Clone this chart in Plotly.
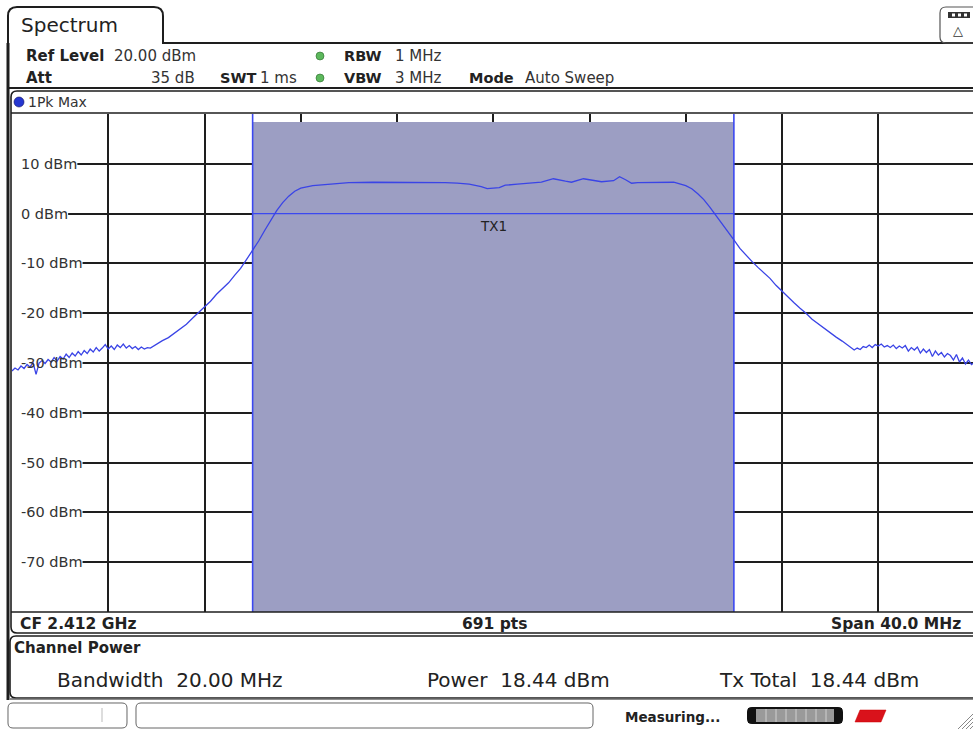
import plotly.graph_objects as go

# ---------------- data ----------------
freq_mhz = [-20.0, -19.875, -19.75, -19.625, -19.5, -19.375, -19.25, -19.125, -19.0, -18.875,
            -18.75, -18.625, -18.5, -18.375, -18.25, -18.125, -18.0, -17.875, -17.75, -17.625,
            -17.5, -17.375, -17.25, -17.125, -17.0, -16.875, -16.75, -16.625, -16.5, -16.375,
            -16.25, -16.125, -16.0, -15.875, -15.75, -15.625, -15.5, -15.375, -15.25, -15.125,
            -15.0, -14.875, -14.75, -14.625, -14.5, -14.375, -14.25, -14.125, -14.0,
            -13.75, -13.5, -13.25, -13.0, -12.75,
            -12.5, -12.25, -12.0, -11.75, -11.5, -11.25, -11.0, -10.75, -10.5, -10.25,
            -10.0, -9.75, -9.5, -9.25, -9.0, -8.75, -8.5, -8.25, -8.0, -7.5,
            -7.0, -6.5, -6.0, -5.0, -4.0, -3.0, -2.0, -1.5, -1.0, -0.5,
            -0.25, 0.25, 0.5, 1.0, 1.5, 2.0, 2.5, 2.75, 3.0, 3.25,
            3.5, 3.75, 4.0, 4.5, 5.0, 5.25, 5.5, 5.75, 6.0, 6.5,
            7.0, 7.5, 8.0, 8.25, 8.5, 8.75, 9.0, 9.25, 9.5, 9.75,
            10.0, 10.25, 10.5, 10.75, 11.0, 11.25, 11.5, 11.75, 12.0, 12.25,
            12.5, 12.75, 13.0, 13.25, 13.5, 13.75, 14.0, 14.25, 14.5, 14.75,
            15.0, 15.125, 15.25, 15.375, 15.5, 15.625, 15.75, 15.875, 16.0, 16.125,
            16.25, 16.375, 16.5, 16.625, 16.75, 16.875, 17.0, 17.125, 17.25, 17.375,
            17.5, 17.625, 17.75, 17.875, 18.0, 18.125, 18.25, 18.375, 18.5, 18.625,
            18.75, 18.875, 19.0, 19.125, 19.25, 19.375, 19.5, 19.625, 19.75, 19.875, 20.0]
level_dbm = [-31.6, -31.0, -31.4, -30.6, -31.1, -30.3, -30.8, -29.9, -32.3, -30.0,
             -29.5, -30.1, -29.3, -29.8, -28.9, -29.6, -28.7, -29.2, -28.2, -28.9,
             -28.0, -28.6, -27.7, -28.4, -27.5, -28.1, -27.2, -27.8, -26.9, -27.6,
             -27.0, -26.3, -27.2, -26.6, -27.3, -26.4, -26.9, -26.2, -27.0, -26.5,
             -27.1, -26.7, -27.3, -26.8, -27.2, -26.9, -27.0, -26.6, -26.3,
             -25.5, -24.9, -24.0, -23.1, -22.2,
             -21.0, -19.9, -18.7, -17.6, -16.2, -15.1, -13.9, -12.4, -11.0, -9.2,
             -7.4, -5.5, -3.4, -1.3, 0.6, 2.2, 3.5, 4.5, 5.1, 5.6,
             5.8, 6.0, 6.2, 6.3, 6.3, 6.2, 6.2, 6.1, 5.9, 5.4,
             5.0, 5.2, 5.7, 5.9, 6.1, 6.3, 7.0, 6.7, 6.5, 6.3,
             6.6, 7.0, 6.8, 6.4, 6.6, 7.4, 6.8, 6.1, 6.2, 6.2,
             6.2, 6.3, 5.6, 5.0, 4.0, 2.8, 1.3, -0.3, -1.9, -3.6,
             -5.3, -7.0, -8.4, -9.6, -10.8, -11.9, -13.0, -14.4, -15.6, -16.9,
             -17.9, -19.0, -20.0, -21.2, -22.1, -23.1, -23.9, -24.8, -25.6, -26.5,
             -27.4, -27.0, -27.3, -26.7, -26.9, -26.4, -26.9, -26.3, -26.6, -26.2,
             -26.8, -26.5, -26.9, -26.4, -27.1, -26.6, -27.0, -26.5, -27.6, -26.9,
             -27.4, -26.8, -28.0, -27.2, -27.9, -27.3, -28.7, -27.6, -28.4, -27.9,
             -28.8, -28.1, -28.5, -29.4, -28.3, -29.8, -29.0, -30.2, -29.4, -30.3, -29.9]

y_tick_vals = [10, 0, -10, -20, -30, -40, -50, -60, -70]
y_tick_text = ["10 dBm", "0 dBm", "-10 dBm", "-20 dBm", "-30 dBm", "-40 dBm", "-50 dBm", "-60 dBm", "-70 dBm"]
channel_lo, channel_hi = -10.0, 10.0
tx_level = 0.0
channel_top = 18.4

# ---------------- helpers ----------------
W, H = 973, 729
X0PX, X1PX = 12, 974.5
Y0PX, Y1PX = 114, 612
def px(x):
    return x / W
def py(y):
    return 1 - y / H
def xdata(p):
    return -20 + (p - X0PX) / (X1PX - X0PX) * 40

DARK = "#1e1e1e"
FONT = "DejaVu Sans"
BLUE = "#3a44e6"

fig = go.Figure()
fig.add_trace(go.Scatter(x=freq_mhz, y=level_dbm, mode="lines",
                         line=dict(color=BLUE, width=1.3), hoverinfo="skip",
                         showlegend=False))

shapes = []
def line(x0, y0, x1, y1, w=2, c=DARK):
    shapes.append(dict(type="line", xref="paper", yref="paper",
                       x0=px(x0), y0=py(y0), x1=px(x1), y1=py(y1),
                       line=dict(color=c, width=w)))

def path(pts_str, w=2, c=DARK, fill=None):
    d = dict(type="path", xref="paper", yref="paper", path=pts_str,
             line=dict(color=c, width=w))
    if fill:
        d["fillcolor"] = fill
    shapes.append(d)

def P(x, y):
    return f"{px(x):.5f},{py(y):.5f}"

def rrect(x0, y0, x1, y1, r=5, w=1.2, c=DARK, fill=None):
    s = (f"M {P(x0+r, y0)} L {P(x1-r, y0)} Q {P(x1, y0)} {P(x1, y0+r)} "
         f"L {P(x1, y1-r)} Q {P(x1, y1)} {P(x1-r, y1)} L {P(x0+r, y1)} "
         f"Q {P(x0, y1)} {P(x0, y1-r)} L {P(x0, y0+r)} Q {P(x0, y0)} {P(x0+r, y0)} Z")
    path(s, w, c, fill)

# channel shading (above grid, below trace)
shapes.append(dict(type="rect", xref="x", yref="y", x0=channel_lo, x1=channel_hi,
                   y0=-80, y1=channel_top, fillcolor="#9c9ec3",
                   line=dict(width=0), layer="between"))
for xv in (channel_lo, channel_hi):
    shapes.append(dict(type="line", xref="x", yref="y", x0=xv, x1=xv, y0=-80, y1=20,
                       line=dict(color="#3b48f0", width=1.6), layer="between"))
shapes.append(dict(type="line", xref="x", yref="y", x0=channel_lo, x1=channel_hi,
                   y0=tx_level, y1=tx_level, line=dict(color="#3b48f0", width=1.3),
                   layer="between"))

# white patches behind y labels (hide gridline under the label text)
cw = {"0": .636, "1": .636, "2": .636, "3": .636, "4": .636, "5": .636, "6": .636,
      "7": .636, " ": .318, "d": .635, "B": .686, "m": .974, "-": .361}
LBL_SIZE = 14.5
LBL_X = 19
for v, t in zip(y_tick_vals, y_tick_text):
    wpx = sum(cw.get(ch, .6) for ch in t) * LBL_SIZE
    shapes.append(dict(type="rect", xref="x", yref="y",
                       x0=xdata(X0PX), x1=xdata(LBL_X + wpx + 2), y0=v - 0.6, y1=v + 0.6,
                       fillcolor="white", line=dict(width=0), layer="between"))

# tab + header frame
path(f"M {P(8, 60)} L {P(8, 16)} Q {P(8, 7)} {P(17, 7)} L {P(154, 7)} Q {P(163, 7)} {P(163, 16)} "
     f"L {P(163, 43)} L {P(973, 43)}", w=2)
line(8, 88, 973, 88, w=2)
line(8, 43, 8, 700, w=3)
# top-right icon
path(f"M {P(980, 7)} L {P(946, 7)} Q {P(940, 7)} {P(940, 13)} L {P(940, 37)} Q {P(940, 43)} {P(946, 43)} L {P(980, 43)}",
     w=1.2, c="#555")
shapes.append(dict(type="rect", xref="paper", yref="paper", x0=px(948), x1=px(970),
                   y0=py(18), y1=py(12), fillcolor="#333", line=dict(width=0)))
for xd in (952, 958, 964):
    shapes.append(dict(type="rect", xref="paper", yref="paper", x0=px(xd), x1=px(xd + 3),
                       y0=py(16.5), y1=py(13.5), fillcolor="white", line=dict(width=0)))

# plot frame
path(f"M {P(973, 91)} L {P(17, 91)} Q {P(11, 91)} {P(11, 97)} L {P(11, 627)} Q {P(11, 633)} {P(17, 633)} L {P(973, 633)}",
     w=1.6)
line(11, 113, 973, 113, w=1.6)
line(11, 612, 973, 612, w=1.6)
# channel power panel
path(f"M {P(973, 636)} L {P(16, 636)} Q {P(10, 636)} {P(10, 642)} L {P(10, 692)} Q {P(10, 698)} {P(16, 698)} L {P(973, 698)}",
     w=1.6)
line(10, 699, 973, 699, w=1.5, c="#666")
# status bar
rrect(8, 703, 127, 728, r=5, w=1, c="#666")
line(102, 708, 102, 722, w=1, c="#bbb")
rrect(136, 703, 593, 728, r=5, w=1, c="#666")
rrect(748, 708, 842, 723, r=4, w=2, c="#111", fill="#9a9a9a")
shapes.append(dict(type="rect", xref="paper", yref="paper", x0=px(748), x1=px(756),
                   y0=py(723), y1=py(708), fillcolor="#111", line=dict(width=0)))
shapes.append(dict(type="rect", xref="paper", yref="paper", x0=px(834), x1=px(842),
                   y0=py(723), y1=py(708), fillcolor="#111", line=dict(width=0)))
for xs in range(766, 834, 10):
    line(xs, 709, xs, 722, w=1, c="#cfcfcf")
path(f"M {P(855, 722)} L {P(860, 710)} L {P(886, 710)} L {P(881, 722)} Z", w=0.5, c="#c00", fill="#d9121b")
for k in range(4):
    line(958 + 4 * k, 729, 973, 714 + 4 * k, w=1, c="#888")

# circles (status dots)
def dot(cx, cy, r, col, edge):
    shapes.append(dict(type="circle", xref="paper", yref="paper",
                       x0=px(cx - r), x1=px(cx + r), y0=py(cy + r), y1=py(cy - r),
                       fillcolor=col, line=dict(color=edge, width=0.6)))
dot(320, 56, 4, "#5cb85c", "#2a6a2a")
dot(320, 78, 4, "#5cb85c", "#2a6a2a")
dot(19, 102, 5, "#2536d0", "#101060")

fig.update_layout(shapes=shapes)

# ---------------- texts ----------------
ann = []
def text(x, y, s, size=14, bold=False, anchor="left", color="#222"):
    ann.append(dict(xref="paper", yref="paper", x=px(x), y=py(y), text=f"<b>{s}</b>" if bold else s,
                    showarrow=False, xanchor=anchor, yanchor="middle",
                    font=dict(family=FONT, size=size, color=color)))

text(19, 25, "Spectrum", size=20)
text(24, 56, "Ref Level", bold=True, size=15)
text(112, 56, "20.00 dBm", size=15, color="#333")
text(24, 78, "Att", bold=True, size=15)
text(197, 78, "35 dB", size=15, anchor="right", color="#333")
text(218, 78, "SWT", bold=True, size=14.5)
text(258, 78, "1 ms", size=15, color="#333")
text(342, 56, "RBW", bold=True, size=14.5)
text(393, 56, "1 MHz", size=15, color="#333")
text(342, 78, "VBW", bold=True, size=14.5)
text(393, 78, "3 MHz", size=15, color="#333")
text(467, 78, "Mode", bold=True, size=14.5)
text(523, 78, "Auto Sweep", size=15, color="#333")
text(958, 30, "△", size=13, anchor="center", color="#333")
text(26, 102, "1Pk Max", size=14, color="#333")
text(18, 624, "CF 2.412 GHz", bold=True, size=15.5)
text(494, 624, "691 pts", bold=True, size=15.5, anchor="center")
text(963, 624, "Span 40.0 MHz", bold=True, size=15.5, anchor="right")
text(12, 648, "Channel Power", bold=True, size=15)
text(55, 680, "Bandwidth  20.00 MHz", size=20)
text(425, 680, "Power  18.44 dBm", size=20)
text(717, 680, "Tx Total  18.44 dBm", size=20)
text(623, 717, "Measuring...", bold=True, size=13.5)

for v, t in zip(y_tick_vals, y_tick_text):
    ann.append(dict(xref="paper", yref="y", x=px(LBL_X), y=v, text=t, showarrow=False,
                    xanchor="left", yanchor="middle",
                    font=dict(family=FONT, size=LBL_SIZE, color="#333")))
ann.append(dict(xref="x", yref="y", x=(channel_lo + channel_hi) / 2, y=tx_level, text="TX1",
                showarrow=False, xanchor="center", yanchor="top", yshift=-2,
                font=dict(family=FONT, size=13.5, color="#222")))

fig.update_layout(
    annotations=ann,
    width=W, height=H,
    margin=dict(l=0, r=0, t=0, b=0),
    paper_bgcolor="white", plot_bgcolor="white",
    showlegend=False,
    xaxis=dict(domain=[px(X0PX), 1.0], range=[-20, xdata(W)], tick0=-20, dtick=4,
               showgrid=True, gridcolor=DARK, gridwidth=1.5, zeroline=False,
               showticklabels=False, ticks="", showline=False, fixedrange=True),
    yaxis=dict(domain=[py(Y1PX), py(Y0PX)], range=[-80, 20], tick0=-80, dtick=10,
               showgrid=True, gridcolor=DARK, gridwidth=1.5, zeroline=False,
               showticklabels=False, ticks="", showline=False, fixedrange=True),
)

fig.write_html("out.html", config={"displayModeBar": False},
               post_script="document.body.style.margin='0px';document.body.style.overflow='hidden';")
